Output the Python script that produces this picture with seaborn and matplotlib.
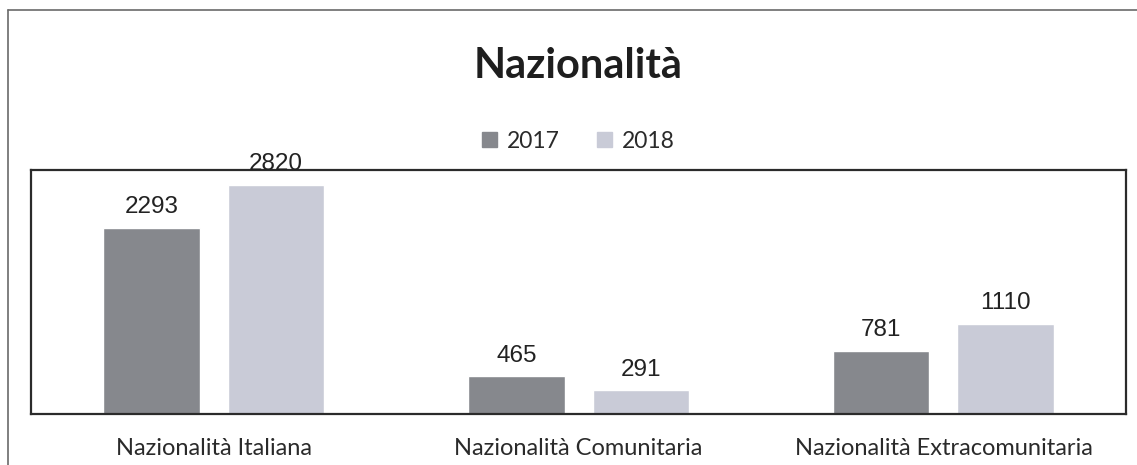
import matplotlib
matplotlib.use("Agg")
import matplotlib.pyplot as plt
from matplotlib.lines import Line2D
import seaborn as sns
import pandas as pd

# Data
categories = ["Nazionalità Italiana", "Nazionalità Comunitaria", "Nazionalità Extracomunitaria"]
years = ["2017", "2018"]
values_2017 = [2293, 465, 781]
values_2018 = [2820, 291, 1110]

df = pd.DataFrame({
    "categoria": categories * 2,
    "anno": [years[0]] * 3 + [years[1]] * 3,
    "valore": values_2017 + values_2018,
})

sns.set_theme(style="white")
plt.rcParams["font.family"] = ["Lato", "DejaVu Sans"]

fig = plt.figure(figsize=(11.37, 4.65), dpi=100)
ax = fig.add_axes([0.0273, 0.1097, 0.963, 0.5247])

palette = {"2017": "#86888d", "2018": "#c9cbd7"}
sns.barplot(data=df, x="categoria", y="valore", hue="anno", hue_order=years,
            order=categories, palette=palette, width=0.682, gap=0.225,
            saturation=1, ax=ax, legend=False)

for cont in ax.containers:
    ax.bar_label(cont, fmt="%d", padding=7, fontsize=17.5,
                 family="Liberation Sans", color="#222222", clip_on=False)

ax.set_xlim(-0.5, 2.5)
ax.set_ylim(0, 3005)
ax.set_yticks([])
ax.set_xlabel("")
ax.set_ylabel("")
ax.tick_params(axis="x", length=0, pad=17, labelsize=17, labelcolor="#2a2a2a")
for s in ax.spines.values():
    s.set_visible(True)
    s.set_color("#2b2b2b")
    s.set_linewidth(1.6)

# Legend
handles = [plt.Rectangle((0, 0), 1, 1, color=palette[y]) for y in years]
fig.legend(handles, years, loc="center", bbox_to_anchor=(578.5 / 1137, 1 - 141 / 465),
           ncol=2, frameon=False, fontsize=16.5, handlelength=0.65, handleheight=0.65,
           handletextpad=0.45, columnspacing=1.6, labelcolor="#2a2a2a")

# Title
fig.text(578.5 / 1137, 1 - 66 / 465, "Nazionalità", ha="center", va="center",
         fontsize=30, fontweight="bold", color="#1e1e1e")

# Outer frame lines
fig.add_artist(Line2D([8 / 1137, 1.0], [1 - 10 / 465, 1 - 10 / 465],
                      transform=fig.transFigure, color="#6a6a6a", lw=1.2))
fig.add_artist(Line2D([8 / 1137, 8 / 1137], [0, 1 - 10 / 465],
                      transform=fig.transFigure, color="#6a6a6a", lw=1.2))

fig.savefig("out.png", dpi=100, facecolor="white")
